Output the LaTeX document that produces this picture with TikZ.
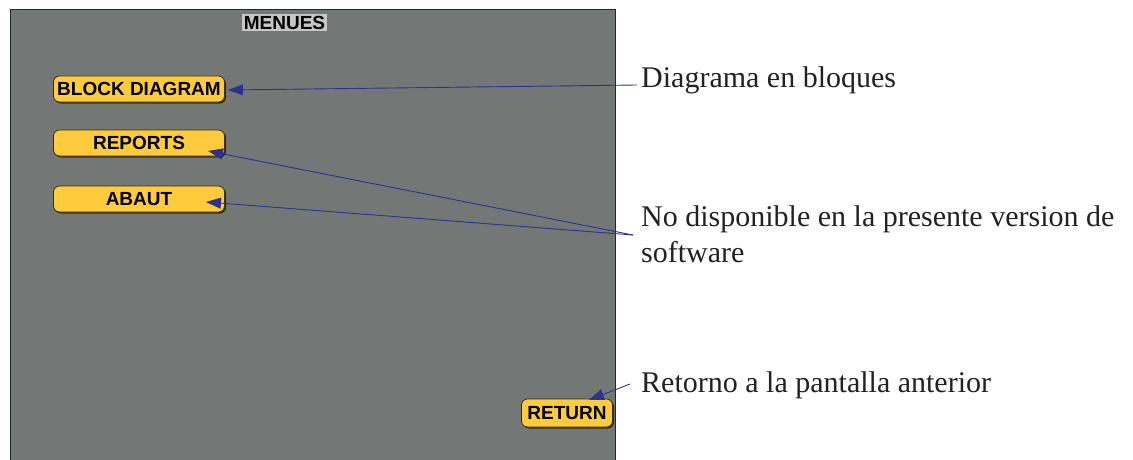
\documentclass[tikz,border=0pt]{standalone}
\usepackage{fontspec}
\setmainfont{Liberation Serif}
\newfontfamily\btnfont{Liberation Sans}
\usetikzlibrary{arrows.meta,shadows}
\definecolor{panel}{HTML}{737877}
\definecolor{btnyel}{HTML}{FDCB3C}
\definecolor{btnedge}{HTML}{3A2E10}
\definecolor{arrowblue}{HTML}{2E3192}
\definecolor{txt}{HTML}{222222}
\tikzset{
  btn/.style={draw=btnedge, line width=0.8pt, fill=btnyel, rounded corners=6pt,
    inner sep=0pt, font=\btnfont\bfseries\fontsize{19}{22}\selectfont,
    drop shadow={shadow xshift=1.5pt, shadow yshift=-1.5pt, fill=btnedge, opacity=1}},
  note/.style={anchor=base west, inner sep=0pt, text=txt, font=\fontsize{30}{36}\selectfont},
  pointer/.style={draw=arrowblue, line width=0.9pt, -{Triangle[length=15pt,width=11pt]}}
}
\begin{document}
\begin{tikzpicture}[x=1pt,y=-1pt]
\useasboundingbox (0,0) rectangle (1133,460);
\fill[white] (0,0) rectangle (1133,460);
\draw[fill=panel, draw=black!85, line width=1pt] (10,470) -- (10,10) -- (615,10) -- (615,470);
\node[fill=black!22, inner sep=1.5pt, font=\btnfont\bfseries\fontsize{19}{21}\selectfont] (menu) at (284.5,22.5) {MENUES};
\node[btn, minimum width=171pt, minimum height=26pt] (bd) at (139,89) {BLOCK DIAGRAM};
\node[btn, minimum width=171pt, minimum height=26pt] (rp) at (139,143) {REPORTS};
\node[btn, minimum width=171pt, minimum height=26pt] (ab) at (139,199) {ABAUT};
\node[btn, minimum width=91pt, minimum height=28pt] (rt) at (567,413) {RETURN};
\node[note] (t1) at (641,88) {Diagrama en bloques};
\node[note, align=left] (t2) at (641,262) {No disponible en la presente version de\\software};
\node[note] (t3) at (641,392) {Retorno a la pantalla anterior};
\coordinate (c1) at (637,85);
\coordinate (c2) at (633,235);
\coordinate (c3) at (630,384);
\coordinate (bdT) at (228,90);
\coordinate (rpT) at (208,151);
\coordinate (abT) at (206,202);
\coordinate (rtT) at (589,400);
\draw[pointer] (c1) -- (bdT);
\draw[pointer] (c2) -- (rpT);
\draw[pointer] (c2) -- (abT);
\draw[pointer] (c3) -- (rtT);
\end{tikzpicture}
\end{document}
